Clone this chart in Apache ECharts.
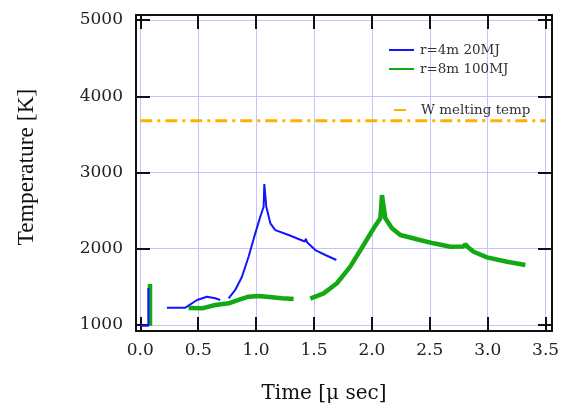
<!DOCTYPE html>
<html>
<head>
<meta charset="utf-8">
<title>Temperature vs time</title>
<script src="https://cdn.jsdelivr.net/npm/echarts@6/dist/echarts.min.js"></script>
<style>
  html, body { margin: 0; padding: 0; background: #fff; }
  #chart { width: 566px; height: 409px; }
</style>
</head>
<body>
<div id="chart"></div>
<script>
// r=4m, 20 MJ case (null = break in the trace)
const blueTime = [0.0, 0.07, 0.07, null,
  0.23, 0.39, 0.49, 0.576, 0.648, 0.69, null,
  0.763, 0.82, 0.878, 0.935, 0.993, 1.036, 1.065, 1.071, 1.088, 1.123, 1.166,
  1.281, 1.42, 1.43, 1.44, 1.511, 1.598, 1.693];
const blueTemp = [990, 990, 1485, null,
  1227, 1227, 1328, 1371, 1350, 1328, null,
  1350, 1459, 1633, 1895, 2202, 2420, 2551, 2849, 2551, 2333, 2245,
  2180, 2095, 2130, 2085, 1983, 1918, 1852];

// r=8m, 100 MJ case
const greenTime = [0.084, 0.084, null,
  0.417, 0.533, 0.648, 0.763, 0.849, 0.935, 1.022, 1.137, 1.223, 1.324, null,
  1.468, 1.583, 1.698, 1.813, 1.928, 2.015, 2.073, 2.087, 2.116, 2.173, 2.245,
  2.389, 2.533, 2.677, 2.79, 2.807, 2.83, 2.878, 2.994, 3.167, 3.325];
const greenTemp = [990, 1537, null,
  1222, 1218, 1262, 1284, 1328, 1371, 1380, 1363, 1350, 1341, null,
  1345, 1415, 1547, 1765, 2049, 2268, 2399, 2704, 2399, 2268, 2180,
  2124, 2071, 2027, 2030, 2060, 2020, 1961, 1887, 1830, 1787];

// Tungsten melting temperature reference
const meltTime = [0.0, 3.5];
const meltTemp = [3680, 3680];

const xTicks = [0, 0.5, 1.0, 1.5, 2.0, 2.5, 3.0, 3.5];
const yTicks = [1000, 2000, 3000, 4000, 5000];

function pairs(xs, ys) {
  return xs.map((x, i) => (x === null ? [null, null] : [x, ys[i]]));
}

const SERIF = '"DejaVu Serif", "Liberation Serif", serif';
const frame = { show: true, onZero: false, lineStyle: { color: '#111', width: 2 } };
const tick = (vals) => ({ show: true, inside: true, length: 14, customValues: vals,
  lineStyle: { color: '#111', width: 2 } });
const grid = { show: true, lineStyle: { color: '#c4c4ff', width: 1 } };

const chart = echarts.init(document.getElementById('chart'), null, { renderer: 'canvas' });
chart.setOption({
  animation: false,
  backgroundColor: '#ffffff',
  grid: { left: 136, right: 14, top: 15, bottom: 78, containLabel: false },
  xAxis: [{
    type: 'value', min: -0.037, max: 3.555, position: 'bottom',
    axisLine: frame, axisTick: tick(xTicks), splitLine: grid,
    axisLabel: { customValues: xTicks, margin: 11, color: '#222', fontFamily: SERIF, fontSize: 17,
      formatter: v => v.toFixed(1) },
    name: 'Time [μ sec]', nameLocation: 'middle', nameGap: 53,
    nameTextStyle: { fontFamily: SERIF, fontSize: 20, color: '#111', padding: [0, 40, 0, 0] }
  }, {
    type: 'value', min: -0.037, max: 3.555, position: 'top',
    axisLine: frame, axisTick: tick(xTicks), axisLabel: { show: false }, splitLine: { show: false }
  }],
  yAxis: [{
    type: 'value', min: 921, max: 5066, position: 'left',
    axisLine: frame, axisTick: tick(yTicks), splitLine: grid,
    axisLabel: { customValues: yTicks, margin: 13, color: '#222', fontFamily: SERIF, fontSize: 17,
      formatter: v => String(Math.round(v)) },
    name: 'Temperature [K]', nameLocation: 'middle', nameGap: 97, nameRotate: 90,
    nameTextStyle: { fontFamily: '"Liberation Serif", serif', fontSize: 23.5, color: '#111',
      padding: [0, 0, 0, 12] }
  }, {
    type: 'value', min: 921, max: 5066, position: 'right',
    axisLine: frame, axisTick: tick(yTicks), axisLabel: { show: false }, splitLine: { show: false }
  }],
  legend: [{
    data: ['r=4m 20MJ', 'r=8m 100MJ'],
    orient: 'vertical', left: 388, top: 43, padding: 0,
    itemWidth: 25, itemHeight: 14, itemGap: 5,
    itemStyle: { opacity: 0 },
    textStyle: { fontFamily: SERIF, fontSize: 13.5, color: '#333', padding: [0, 0, 0, 1] }
  }, {
    data: ['W melting temp'],
    orient: 'vertical', left: 393, top: 103, padding: 0,
    itemWidth: 12, itemHeight: 14,
    itemStyle: { opacity: 0 },
    textStyle: { fontFamily: SERIF, fontSize: 13.5, color: '#333', padding: [0, 0, 0, 10] }
  }],
  series: [{
    name: 'W melting temp', type: 'line', data: pairs(meltTime, meltTemp),
    showSymbol: false, symbol: 'none', z: 1,
    lineStyle: { color: '#ffb000', width: 3, type: [12, 5, 3, 5] },
    itemStyle: { color: '#ffb000' }
  }, {
    name: 'r=4m 20MJ', type: 'line', data: pairs(blueTime, blueTemp),
    showSymbol: false, symbol: 'none', connectNulls: false, z: 3,
    lineStyle: { color: '#1414ff', width: 2 }, itemStyle: { color: '#1414ff' }
  }, {
    name: 'r=8m 100MJ', type: 'line', data: pairs(greenTime, greenTemp),
    showSymbol: false, symbol: 'none', connectNulls: false, z: 2,
    lineStyle: { color: '#14a814', width: 4.5 }, itemStyle: { color: '#14a814' }
  }]
});
</script>
</body>
</html>
